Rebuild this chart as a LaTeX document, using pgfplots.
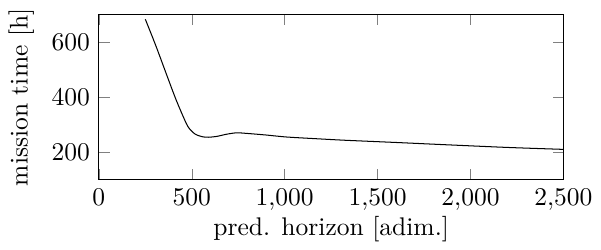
\documentclass[border=0pt]{standalone}
\usepackage{pgfplots}
\pgfplotsset{compat=1.18}
\begin{document}
\begin{tikzpicture}
\begin{axis}[
  scale only axis,
  width=182pt, height=64.8pt,
  xmin=0, xmax=2500, ymin=100, ymax=700,
  xtick={0,500,1000,1500,2000,2500},
  ytick={200,400,600},
  xlabel={pred. horizon [adim.]},
  ylabel={mission time [h]},
  xlabel style={yshift=4.7pt},
]
\addplot[black, smooth, tension=0.5] coordinates {
(250,683) (306,588) (359,492) (412,397) (457,325) (483,290) (519,266) (563,256) (590,255)
(634,258) (688,266) (741,271) (794,269) (901,263) (1007,256) (1160,250) (1327,244) (1600,236) (1860,228) (2200,218) (2500,211)
};
\end{axis}
\end{tikzpicture}
\end{document}
